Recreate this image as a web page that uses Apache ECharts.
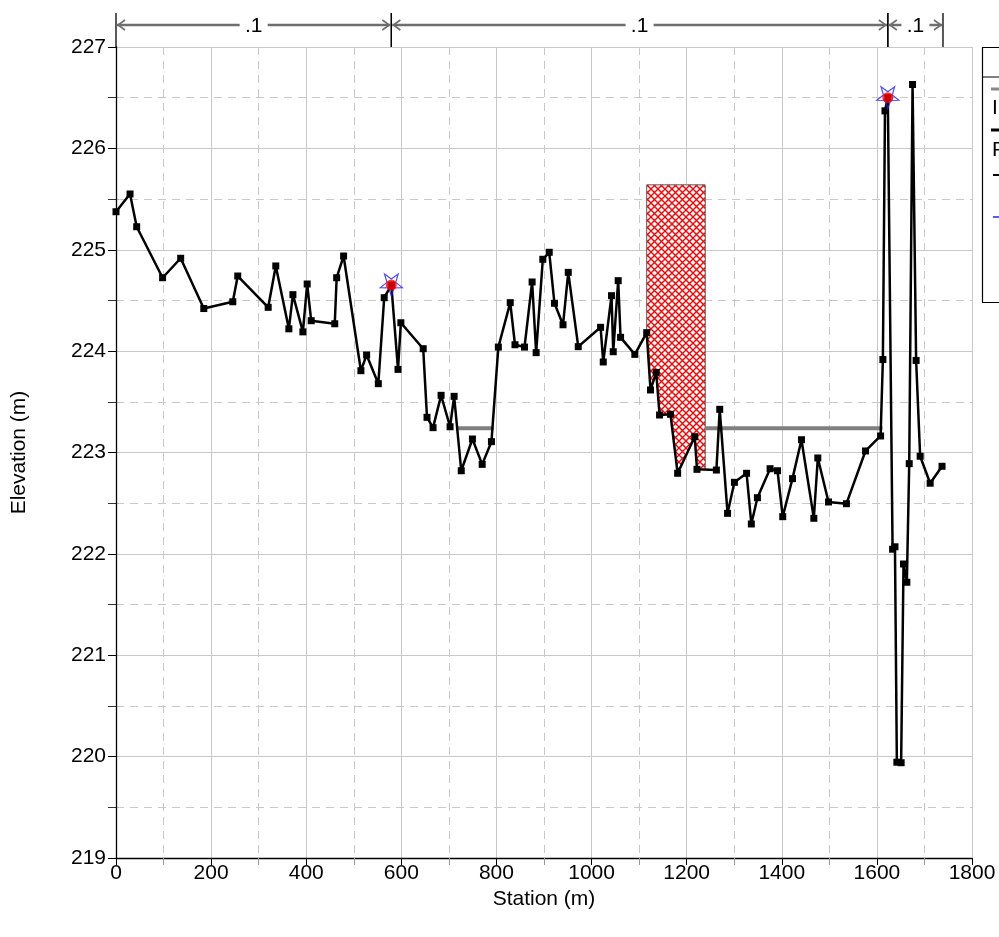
<!DOCTYPE html>
<html><head><meta charset="utf-8">
<script src="https://cdn.jsdelivr.net/npm/echarts@6/dist/echarts.min.js"></script>
<style>html,body{margin:0;padding:0;background:#fff}#c{width:999px;height:937px}</style>
</head><body><div id="c"></div>
<script>
// ---- data ----
const stations = [0, 29.5, 43.5, 98, 136, 184.6, 245.6, 256, 320, 336, 363.5, 372, 393, 402, 410.5, 460, 464, 478.6, 515, 527, 551.6, 564, 579, 593, 599, 646, 654, 666.7, 683.6, 702.5, 711, 726, 749.5, 770, 789.5, 804, 829, 839, 859, 875, 883.5, 897.5, 911, 922, 940, 951, 972, 1019, 1024.6, 1042, 1045.6, 1056, 1061, 1091, 1116, 1124, 1136, 1143, 1166, 1181, 1217, 1221.7, 1262.5, 1269.5, 1286, 1300.4, 1326, 1336, 1348.8, 1375.4, 1391, 1402, 1422.5, 1441.4, 1467.4, 1475.8, 1498.3, 1536, 1576, 1607.8, 1612.6, 1617, 1623, 1633, 1638, 1642, 1651, 1656, 1663, 1668, 1675, 1682.5, 1691, 1712, 1737];
const elevations = [225.375, 225.55, 225.227, 224.724, 224.916, 224.42, 224.487, 224.741, 224.432, 224.84, 224.22, 224.557, 224.19, 224.662, 224.30, 224.27, 224.724, 224.938, 223.807, 223.962, 223.679, 224.527, 224.652, 223.82, 224.28, 224.024, 223.347, 223.245, 223.564, 223.254, 223.554, 222.82, 223.133, 222.883, 223.107, 224.04, 224.478, 224.063, 224.04, 224.682, 223.985, 224.906, 224.975, 224.472, 224.26, 224.777, 224.044, 224.235, 223.893, 224.547, 223.994, 224.695, 224.136, 223.968, 224.182, 223.617, 223.79, 223.37, 223.377, 222.795, 223.156, 222.834, 222.827, 223.426, 222.40, 222.706, 222.795, 222.295, 222.554, 222.84, 222.82, 222.367, 222.742, 223.126, 222.351, 222.946, 222.512, 222.495, 223.015, 223.163, 223.917, 226.37, 226.5, 222.046, 222.07, 219.945, 219.94, 221.9, 221.72, 222.89, 226.63, 223.908, 222.963, 222.697, 222.864];
const bankStations = [579, 1623];
const bankElevations = [224.652, 226.5];
const ineffStart = [716, 1238];
const ineffEnd = [794, 1612];
const ineffElev = [223.24, 223.24];
const obsStart = [1116];
const obsEnd = [1239];
const obsTop = [225.64];
const nBreaks = [0, 579, 1623, 1739];
const nValues = ['.1', '.1', '.1'];
const xTicks = [0, 1800, 200];
const yTicks = [219, 227, 1];

const FONT = '"Liberation Sans", Arial, sans-serif';
const groundData = stations.map((s, i) => [s, elevations[i]]);

function groundAt(x) {
  for (let i = 0; i < stations.length - 1; i++) {
    if (x >= stations[i] && x <= stations[i + 1]) {
      const t = (x - stations[i]) / (stations[i + 1] - stations[i]);
      return elevations[i] + t * (elevations[i + 1] - elevations[i]);
    }
  }
  return elevations[elevations.length - 1];
}

// cross-hatch pattern
const P = 7;
const pat = document.createElement('canvas');
pat.width = P; pat.height = P;
(function () {
  const c = pat.getContext('2d');
  c.fillStyle = '#fff'; c.fillRect(0, 0, P, P);
  c.strokeStyle = '#ff0000'; c.lineWidth = 1.4;
  c.beginPath();
  c.moveTo(-1, -1); c.lineTo(P + 1, P + 1);
  c.moveTo(P + 1, -1); c.lineTo(-1, P + 1);
  c.stroke();
})();

const chart = echarts.init(document.getElementById('c'), null, { renderer: 'canvas' });

const series = [];

// obstruction block
series.push({
  type: 'custom', z: 1, silent: true, clip: true,
  data: obsStart.map((s, i) => [s, obsEnd[i], obsTop[i]]),
  renderItem: function (params, api) {
    const i = params.dataIndex;
    const s = obsStart[i], e = obsEnd[i], top = obsTop[i];
    const pts = [[s, top], [e, top], [e, groundAt(e)]];
    for (let k = stations.length - 1; k >= 0; k--) {
      if (stations[k] < e && stations[k] > s) pts.push([stations[k], elevations[k]]);
    }
    pts.push([s, groundAt(s)]);
    return {
      type: 'polygon',
      shape: { points: pts.map(p => api.coord(p)) },
      style: { fill: { image: pat, repeat: 'repeat' }, stroke: '#555', lineWidth: 1 }
    };
  }
});

// ineffective areas
ineffStart.forEach((s, i) => {
  series.push({
    type: 'line', z: 2, silent: true, symbol: 'none',
    data: [[s, ineffElev[i]], [ineffEnd[i], ineffElev[i]]],
    lineStyle: { color: '#7f7f7f', width: 4 }
  });
});

// ground
series.push({
  type: 'line', z: 3, silent: true,
  data: groundData,
  symbol: 'rect', symbolSize: 7,
  itemStyle: { color: '#000' },
  lineStyle: { color: '#000', width: 2.5 }
});

// bank stations
const starPath = 'path://M0,10 L2.35,3.24 L9.51,3.09 L3.8,-1.24 L5.88,-8.09 L0,-4 L-5.88,-8.09 L-3.8,-1.24 L-9.51,3.09 L-2.35,3.24 Z';
series.push({
  type: 'scatter', z: 4, silent: true,
  data: bankStations.map((s, i) => [s, bankElevations[i]]),
  symbol: starPath, symbolSize: 22,
  itemStyle: { color: 'rgba(0,0,0,0)', borderColor: '#1f1fff', borderWidth: 1.2 }
});
series.push({
  type: 'scatter', z: 5, silent: true,
  data: bankStations.map((s, i) => [s, bankElevations[i]]),
  symbol: 'circle', symbolSize: 11,
  itemStyle: { color: '#ff0000' }
});

// Manning's n annotations
series.push({
  type: 'custom', z: 6, silent: true, clip: false,
  data: nValues.map((v, i) => [nBreaks[i], nBreaks[i + 1]]),
  renderItem: function (params, api) {
    const i = params.dataIndex;
    const p1 = api.coord([nBreaks[i], yTicks[1]]);
    const p2 = api.coord([nBreaks[i + 1], yTicks[1]]);
    const top = p1[1];
    const yl = top - 22;
    const mid = (p1[0] + p2[0]) / 2;
    const gap = 14;
    const g = '#6e6e6e';
    const ch = [];
    ch.push({ type: 'line', shape: { x1: p1[0], y1: top - 34, x2: p1[0], y2: top }, style: { stroke: '#000', lineWidth: 1.3 } });
    ch.push({ type: 'line', shape: { x1: p2[0], y1: top - 34, x2: p2[0], y2: top }, style: { stroke: '#000', lineWidth: 1.3 } });
    if (mid - gap > p1[0] + 2) ch.push({ type: 'line', shape: { x1: p1[0] + 1, y1: yl, x2: mid - gap, y2: yl }, style: { stroke: g, lineWidth: 2.5 } });
    if (p2[0] - 2 > mid + gap) ch.push({ type: 'line', shape: { x1: mid + gap, y1: yl, x2: p2[0] - 1, y2: yl }, style: { stroke: g, lineWidth: 2.5 } });
    ch.push({ type: 'polyline', shape: { points: [[p1[0] + 9, yl - 5], [p1[0] + 2, yl], [p1[0] + 9, yl + 5]] }, style: { stroke: g, lineWidth: 1.6, fill: null } });
    ch.push({ type: 'polyline', shape: { points: [[p2[0] - 9, yl - 5], [p2[0] - 2, yl], [p2[0] - 9, yl + 5]] }, style: { stroke: g, lineWidth: 1.6, fill: null } });
    ch.push({ type: 'text', x: mid, y: yl + 1, style: { text: nValues[i], font: '21px ' + FONT, fill: '#000', align: 'center', verticalAlign: 'middle' } });
    return { type: 'group', children: ch };
  }
});

const gridLine = { show: true, lineStyle: { color: '#c8c8c8', width: 1 } };
const minorGrid = { show: true, lineStyle: { color: '#c8c8c8', width: 1, type: [8, 6] } };

chart.setOption({
  animation: false,
  backgroundColor: '#fff',
  textStyle: { fontFamily: FONT },
  grid: { left: 116, top: 47, width: 856, height: 811, containLabel: false },
  xAxis: {
    type: 'value', min: xTicks[0], max: xTicks[1], interval: xTicks[2],
    name: 'Station (m)', nameLocation: 'middle', nameGap: 24,
    nameTextStyle: { fontSize: 21, color: '#000', fontFamily: FONT },
    axisLine: { show: true, onZero: false, lineStyle: { color: '#000', width: 1.3 } },
    axisTick: { show: true, length: 7, lineStyle: { color: '#000' } },
    minorTick: { show: true, splitNumber: 2, length: 7, lineStyle: { color: '#999' } },
    axisLabel: { fontSize: 21, color: '#000', margin: 5, fontFamily: FONT, formatter: v => String(v) },
    splitLine: gridLine, minorSplitLine: minorGrid
  },
  yAxis: {
    type: 'value', min: yTicks[0], max: yTicks[1], interval: yTicks[2],
    name: 'Elevation (m)', nameLocation: 'middle', nameGap: 86, nameRotate: 90,
    nameTextStyle: { fontSize: 21, color: '#000', fontFamily: FONT },
    axisLine: { show: true, onZero: false, lineStyle: { color: '#000', width: 1.3 } },
    axisTick: { show: true, length: 8, lineStyle: { color: '#000' } },
    minorTick: { show: true, splitNumber: 2, length: 8, lineStyle: { color: '#333' } },
    axisLabel: { fontSize: 21, color: '#000', margin: 10, fontFamily: FONT, formatter: v => String(v) },
    splitLine: gridLine, minorSplitLine: minorGrid
  },
  graphic: [
    { type: 'rect', shape: { x: 982.5, y: 47.5, width: 80, height: 255 }, style: { fill: '#fff', stroke: '#000', lineWidth: 1.2 }, z: 10 },
    { type: 'line', shape: { x1: 982.5, y1: 77, x2: 1062, y2: 77 }, style: { stroke: '#000', lineWidth: 1.2 }, z: 11 },
    { type: 'line', shape: { x1: 991, y1: 89, x2: 1010, y2: 89 }, style: { stroke: '#888', lineWidth: 3 }, z: 11 },
    { type: 'text', x: 992, y: 108, style: { text: 'Ineff', font: '21px ' + FONT, fill: '#000', verticalAlign: 'middle' }, z: 11 },
    { type: 'line', shape: { x1: 991, y1: 130, x2: 1010, y2: 130 }, style: { stroke: '#000', lineWidth: 3 }, z: 11 },
    { type: 'text', x: 992, y: 150, style: { text: 'Pts', font: '21px ' + FONT, fill: '#000', verticalAlign: 'middle' }, z: 11 },
    { type: 'line', shape: { x1: 993, y1: 175, x2: 1010, y2: 175 }, style: { stroke: '#000', lineWidth: 2 }, z: 11 },
    { type: 'line', shape: { x1: 993, y1: 217, x2: 1010, y2: 217 }, style: { stroke: '#2020ff', lineWidth: 1.5 }, z: 11 }
  ],
  series: series
});
</script>
</body></html>
